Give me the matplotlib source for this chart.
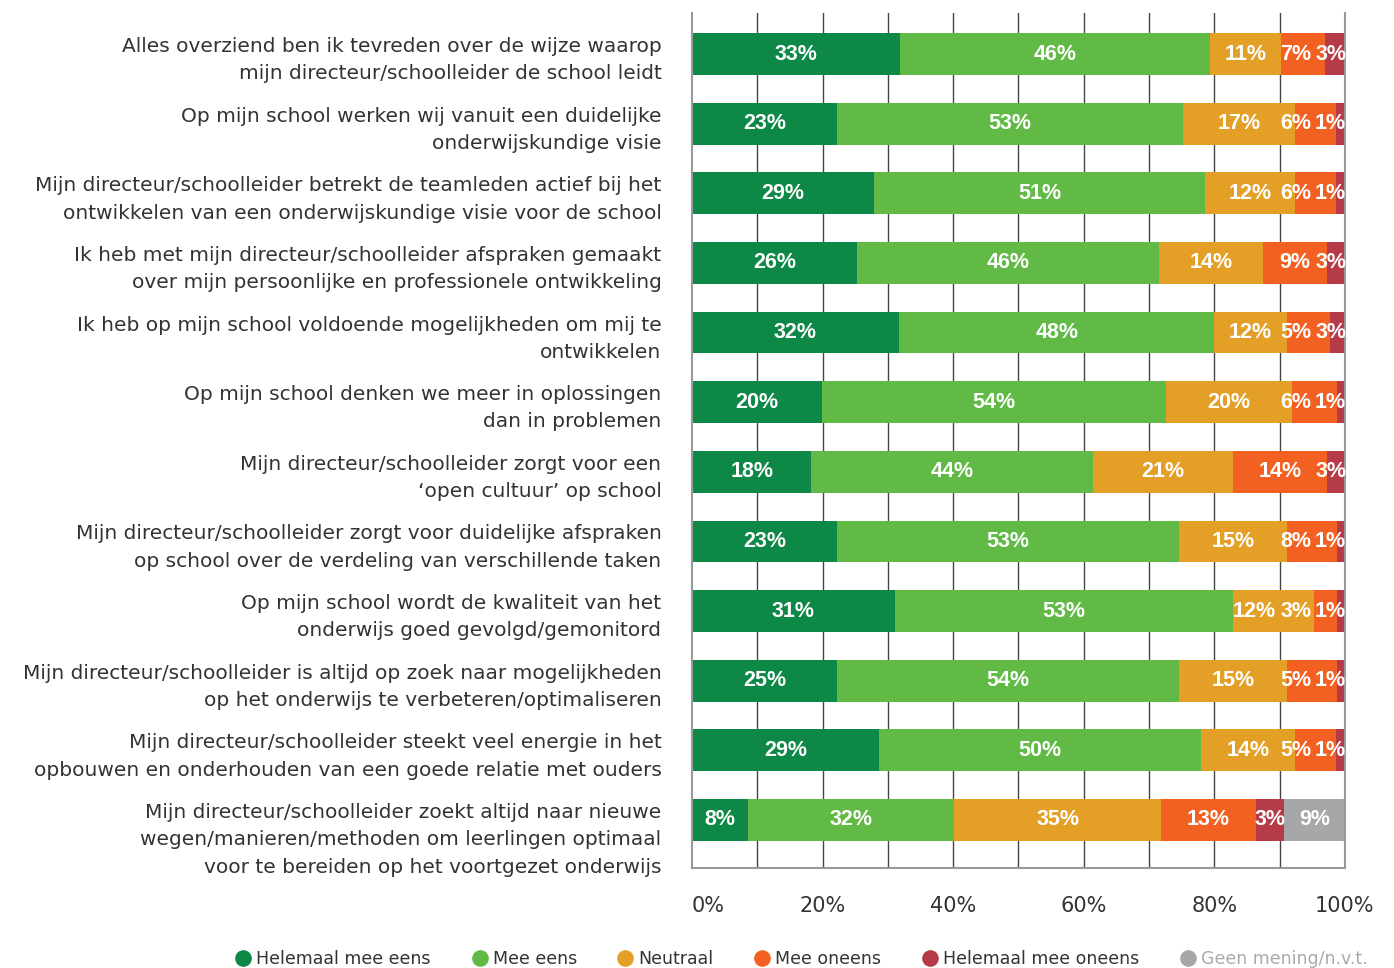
import matplotlib
matplotlib.use('Agg')
import matplotlib.pyplot as plt
import matplotlib.transforms as mtransforms
from matplotlib.lines import Line2D
import numpy as np

# statements (top to bottom)
statements = [
    'Alles overziend ben ik tevreden over de wijze waarop\nmijn directeur/schoolleider de school leidt',
    'Op mijn school werken wij vanuit een duidelijke\nonderwijskundige visie',
    'Mijn directeur/schoolleider betrekt de teamleden actief bij het\nontwikkelen van een onderwijskundige visie voor de school',
    'Ik heb met mijn directeur/schoolleider afspraken gemaakt\nover mijn persoonlijke en professionele ontwikkeling',
    'Ik heb op mijn school voldoende mogelijkheden om mij te\nontwikkelen',
    'Op mijn school denken we meer in oplossingen\ndan in problemen',
    'Mijn directeur/schoolleider zorgt voor een\n\u2018open cultuur\u2019 op school',
    'Mijn directeur/schoolleider zorgt voor duidelijke afspraken\nop school over de verdeling van verschillende taken',
    'Op mijn school wordt de kwaliteit van het\nonderwijs goed gevolgd/gemonitord',
    'Mijn directeur/schoolleider is altijd op zoek naar mogelijkheden\nop het onderwijs te verbeteren/optimaliseren',
    'Mijn directeur/schoolleider steekt veel energie in het\nopbouwen en onderhouden van een goede relatie met ouders',
    'Mijn directeur/schoolleider zoekt altijd naar nieuwe\nwegen/manieren/methoden om leerlingen optimaal\nvoor te bereiden op het voortgezet onderwijs',
]

categories = ['Helemaal mee eens', 'Mee eens', 'Neutraal', 'Mee oneens',
              'Helemaal mee oneens', 'Geen mening/n.v.t.']

# bar widths (%)
helemaal_eens = [31.9, 22.2, 27.9, 25.3, 31.7, 19.9, 18.3, 22.2, 31.1, 22.2, 28.7, 8.6]
mee_eens      = [47.5, 53.0, 50.7, 46.2, 48.3, 52.7, 43.1, 52.4, 51.7, 52.4, 49.3, 31.6]
neutraal      = [10.8, 17.2, 13.8, 15.9, 11.1, 19.3, 21.4, 16.5, 12.5, 16.5, 14.4, 31.6]
mee_oneens    = [6.7, 6.3, 6.3, 9.9, 6.6, 6.9, 14.5, 7.7, 3.5, 7.7, 6.3, 14.6]
helemaal_oneens = [3.1, 1.3, 1.3, 2.7, 2.3, 1.2, 2.7, 1.2, 1.2, 1.2, 1.3, 4.3]
geen_mening   = [0, 0, 0, 0, 0, 0, 0, 0, 0, 0, 0, 9.3]

# printed labels
lbl_helemaal_eens = ['33%', '23%', '29%', '26%', '32%', '20%', '18%', '23%', '31%', '25%', '29%', '8%']
lbl_mee_eens      = ['46%', '53%', '51%', '46%', '48%', '54%', '44%', '53%', '53%', '54%', '50%', '32%']
lbl_neutraal      = ['11%', '17%', '12%', '14%', '12%', '20%', '21%', '15%', '12%', '15%', '14%', '35%']
lbl_mee_oneens    = ['7%', '6%', '6%', '9%', '5%', '6%', '14%', '8%', '3%', '5%', '5%', '13%']
lbl_helemaal_oneens = ['3%', '1%', '1%', '3%', '3%', '1%', '3%', '1%', '1%', '1%', '1%', '3%']
lbl_geen_mening   = ['', '', '', '', '', '', '', '', '', '', '', '9%']

colors = ['#0E8846', '#61BA46', '#E39F26', '#F26122', '#B63B48', '#A7A7A9']

series = [helemaal_eens, mee_eens, neutraal, mee_oneens, helemaal_oneens, geen_mening]
labels = [lbl_helemaal_eens, lbl_mee_eens, lbl_neutraal, lbl_mee_oneens,
          lbl_helemaal_oneens, lbl_geen_mening]

fig = plt.figure(figsize=(13.94, 9.68), dpi=100)
ax = fig.add_axes([0.4964, 0.1033, 0.4684, 0.8833])
ax.set_xlim(0, 100)
ax.set_ylim(len(statements) - 1 + 0.69, -0.59)

renderer = fig.canvas.get_renderer()
px_per_unit = ax.get_window_extent().width / 100.0

y = np.arange(len(statements))
left = np.zeros(len(statements))
row_texts = [[] for _ in y]
for vals, lbls, col in zip(series, labels, colors):
    vals = np.array(vals)
    ax.barh(y, vals, left=left, height=0.6, color=col, zorder=2)
    for i, (v, l, lb) in enumerate(zip(vals, left, lbls)):
        if lb:
            t = ax.text(l + v / 2, y[i], lb, ha='center', va='center', color='white',
                        fontsize=15.5, fontweight='bold', family='Liberation Sans',
                        zorder=3)
            row_texts[i].append(t)
    left = left + vals

# push crowded labels leftwards so they don't run past the bar end or into each other
gap = 4 / px_per_unit
for texts in row_texts:
    limit = 100.2
    for t in reversed(texts):
        w = t.get_window_extent(renderer).width / px_per_unit
        x = t.get_position()[0]
        if x + w / 2 > limit:
            x = limit - w / 2
            t.set_x(x)
        limit = x - w / 2 - gap

for gx in np.arange(10, 100, 10):
    ax.axvline(gx, color='#444444', lw=1, zorder=1)

ax.set_xticks(np.arange(0, 101, 20))
ax.set_xticklabels([f'{v}%' for v in range(0, 101, 20)], fontsize=15, color='#333333')
ax.get_xticklabels()[0].set_ha('left')
ax.tick_params(axis='x', length=0, pad=20)
ax.set_yticks(y)
ax.set_yticklabels(statements, fontsize=14.5, color='#333333', linespacing=1.55)
ax.tick_params(axis='y', length=0, pad=22)
# last (three-line) label sits a bit lower in the original
last = ax.get_yticklabels()[-1]
last.set_transform(last.get_transform() +
                   mtransforms.ScaledTranslation(0, -10 / 72, fig.dpi_scale_trans))

for s in ['left', 'right', 'bottom']:
    ax.spines[s].set_color('#999999')
    ax.spines[s].set_linewidth(1.5)
ax.spines['top'].set_visible(False)

handles = [Line2D([0], [0], marker='o', color='w', markerfacecolor=c,
                  markersize=13, lw=0) for c in colors]
leg = fig.legend(handles, categories, loc='center', ncol=6,
                 bbox_to_anchor=(0.574, 0.009), frameon=False, fontsize=12.5,
                 handletextpad=0.15, columnspacing=2.2, handlelength=1.2)
for t in leg.get_texts():
    t.set_color('#333333')
leg.get_texts()[5].set_color('#AAAAAA')

fig.savefig('out.png', dpi=100)
